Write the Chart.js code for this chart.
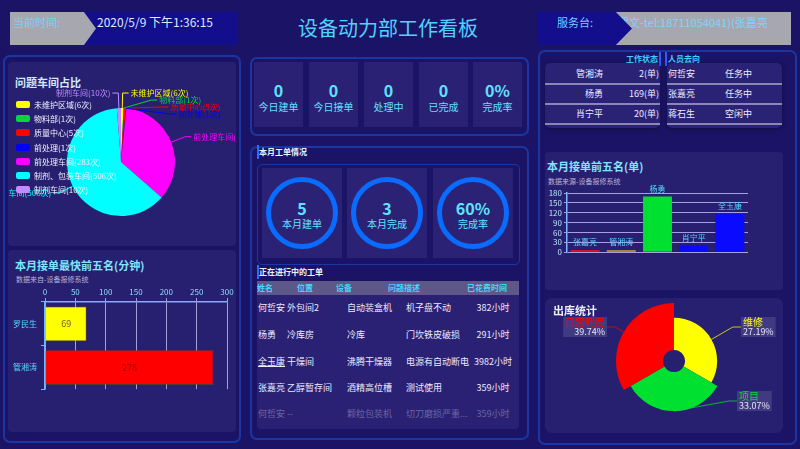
<!DOCTYPE html>
<html lang="zh">
<head>
<meta charset="utf-8">
<title>设备动力部工作看板</title>
<script src="https://cdn.jsdelivr.net/npm/chart.js@4.4.1/dist/chart.umd.min.js"></script>
<style>
*{margin:0;padding:0;box-sizing:border-box}
html,body{width:800px;height:449px;overflow:hidden}
body{background:#1b1466;font-family:"Microsoft YaHei","Noto Sans CJK SC","Noto Sans",sans-serif;position:relative;color:#fff}
.a{position:absolute;white-space:nowrap}
.frame{position:absolute;border:2px solid rgba(28,82,210,0.55);border-radius:7px}
.panel{position:absolute;background:#271f6f;border-radius:4px}
.cell{position:absolute;background:#2a2174}
.num{position:absolute;left:0;right:0;text-align:center;color:#5fe2ff;font-weight:bold}
.lab{position:absolute;left:0;right:0;text-align:center;color:#5fe2ff}
canvas{position:absolute}
.ring{position:absolute;border:5px solid #0a6cff;border-radius:50%}
.tbox{position:absolute;background:#2a2274;border-radius:5px;box-shadow:0 1px 4px rgba(0,0,0,0.4)}
.sep{position:absolute;left:0;right:0;height:2px;background:#8c86b8}
.leg{display:flex;align-items:center;height:14.3px;font-size:8px;color:#f2f0ff}
.leg i{display:inline-block;width:14px;height:7px;border-radius:2px;margin-right:4px}
</style>
</head>
<body>
<script>
// ---------- data ----------
const headerTime = '2020/5/9 下午1:36:15';
const serviceDesk = '罗文-tel:18711054041)(张嘉亮';

const pieLabels = ['未维护区域','物料部','质量中心','前处理','前处理车间','制剂、包装车间','制剂车间'];
const pieValues = [6,1,5,1,283,506,10];
const pieColors = ['#ffff00','#00d83a','#ff0000','#0000ff','#ff00ff','#00ffff','#c08cff'];

const fastNames = ['罗民生','管湘涛'];
const fastMinutes = [69,278];
const fastColors = ['#ffff00','#ff0000'];
const fastTextColors = ['#6a6420','#9a0000'];
const fastAxisMax = 300;
const fastAxisStep = 50;

const statLabels = ['今日建单','今日接单','处理中','已完成','完成率'];
const statValues = ['0','0','0','0','0%'];

const monthLabels = ['本月建单','本月完成','完成率'];
const monthValues = ['5','3','60%'];

const tableHead = ['姓名','位置','设备','问题描述','已花费时间'];
const tableNames = ['何哲安','杨勇','全玉康','张嘉亮','何哲安'];
const tablePlaces = ['外包间2','冷库房','干燥间','乙醇暂存间','--'];
const tableDevices = ['自动装盒机','冷库','沸腾干燥器','酒精高位槽','颗粒包装机'];
const tableProblems = ['机子盘不动','门坎铁皮破损','电源有自动断电','测试使用','切刀磨损严重...'];
const tableHours = ['382小时','291小时','3982小时','359小时','359小时'];

const statusNames = ['管湘涛','杨勇','肖宁平'];
const statusOrders = [2,169,20];
const whereNames = ['何哲安','张嘉亮','蒋石生'];
const whereStates = ['任务中','任务中','空闲中'];

const topNames = ['张嘉亮','管湘涛','杨勇','肖宁平','全玉康'];
const topOrders = [2,2,169,20,116];
const topColors = ['#ff1010','#d2a23c','#00e030','#0a0aff','#0a0aff'];
const topAxisMax = 180;
const topAxisStep = 30;

const roseLabels = ['维修','项目','日常耗用'];
const roseValues = [27.19,33.07,39.74];
const roseColors = ['#ffff00','#00e030','#ff0000'];
</script>

<!-- header -->
<div class="a" style="left:78px;top:12px;width:160px;height:33px;background:#120e8c"></div>
<div class="a" style="left:10px;top:12px;width:86px;height:33px;background:#a7a7b0;clip-path:polygon(0 0,86% 0,100% 50%,86% 100%,0 100%)"></div>
<div class="a" style="left:13px;top:15px;font-size:11px;line-height:14px;color:#78d0ff">当前时间:</div>
<div class="a" id="clock" style="left:97px;top:15px;font-size:12px;line-height:14px;color:#dfe9ff"></div>
<div class="a" style="left:0;width:776px;top:14px;text-align:center;font-size:20px;line-height:28px;color:#4fd2ff">设备动力部工作看板</div>
<div class="a" style="left:615px;top:12px;width:176px;height:33px;background:#a7a7b0;overflow:hidden"><span id="desk" class="a" style="left:3px;top:3px;font-size:11px;line-height:14px;color:#7fd4ff"></span></div>
<div class="a" style="left:537px;top:12px;width:95px;height:33px;background:#120e8c;clip-path:polygon(0 0,83% 0,100% 50%,83% 100%,0 100%)"></div>
<div class="a" style="left:557px;top:15px;font-size:11px;line-height:14px;color:#78d0ff">服务台:</div>

<!-- left column -->
<div class="frame" style="left:3px;top:55px;width:238px;height:388px"></div>
<div class="panel" style="left:8px;top:62px;width:228px;height:184px"></div>
<div class="panel" style="left:8px;top:250px;width:228px;height:182px"></div>
<div class="a" style="left:15px;top:74px;font-size:11px;line-height:16px;font-weight:bold;color:#d3eaff">问题车间占比</div>
<canvas id="pie" width="228" height="183" style="left:8px;top:62px"></canvas>
<div id="legend" class="a" style="left:16px;top:97px"></div>

<div class="a" style="left:15px;top:257px;font-size:11px;line-height:16px;font-weight:bold;color:#7ee6ff">本月接单最快前五名(分钟)</div>
<div class="a" style="left:16px;top:274px;font-size:7px;line-height:10px;color:#b9b4d8">数据来自-设备报修系统</div>
<canvas id="fast" width="228" height="115" style="left:8px;top:283px"></canvas>

<!-- middle column -->
<div class="frame" style="left:250px;top:57px;width:279px;height:79px"></div>
<div id="stats"></div>
<div class="frame" style="left:250px;top:146px;width:279px;height:294px"></div>
<div class="a" style="left:257px;top:145px;width:2px;height:14px;background:#2a6cff"></div>
<div class="a" style="left:259px;top:146px;font-size:8px;line-height:12px;font-weight:bold;color:#eef2ff">本月工单情况</div>
<div class="a" style="left:257px;top:164px;width:263px;height:101px;border:1px solid rgba(30,90,220,0.5);border-radius:5px"></div>
<div id="rings"></div>
<div class="a" style="left:257px;top:265px;width:2px;height:14px;background:#2a6cff"></div>
<div class="a" style="left:259px;top:266px;font-size:8px;line-height:12px;font-weight:bold;color:#eef2ff">正在进行中的工单</div>
<div class="a" style="left:257px;top:281px;width:262px;height:148px;background:#2a2174;border-radius:4px"></div>
<div class="a" style="left:257px;top:281px;width:262px;height:14px;background:#5d5888"></div>
<div id="table"></div>

<!-- right column -->
<div class="frame" style="left:538px;top:50px;width:259px;height:395px"></div>
<div class="a" style="left:600px;top:53px;width:58px;text-align:right;font-size:8px;line-height:12px;font-weight:bold;color:#3fd0ff">工作状态</div>
<div class="a" style="left:659px;top:52px;width:2px;height:14px;background:#2a5cff"></div>
<div class="a" style="left:665px;top:52px;width:2px;height:14px;background:#2a5cff"></div>
<div class="a" style="left:668px;top:53px;font-size:8px;line-height:12px;font-weight:bold;color:#3fd0ff">人员去向</div>
<div class="tbox" id="statusBox" style="left:545px;top:63px;width:115px;height:65px"></div>
<div class="tbox" id="whereBox" style="left:667px;top:63px;width:115px;height:65px"></div>

<div class="panel" style="left:545px;top:152px;width:238px;height:138px"></div>
<div class="a" style="left:547px;top:158px;font-size:11px;line-height:16px;font-weight:bold;color:#7ee6ff">本月接单前五名(单)</div>
<div class="a" style="left:548px;top:176px;font-size:7px;line-height:10px;color:#b9b4d8">数据来源-设备报修系统</div>
<canvas id="top5" width="238" height="76" style="left:545px;top:183px"></canvas>

<div class="panel" style="left:545px;top:298px;width:238px;height:135px;border-radius:7px"></div>
<canvas id="rose" width="238" height="134" style="left:545px;top:298px"></canvas>
<div class="a" style="left:553px;top:302px;font-size:11px;line-height:16px;font-weight:bold;color:#e8f0ff">出库统计</div>

<script>
const FONT = '"Microsoft YaHei","Noto Sans CJK SC",sans-serif';
document.getElementById('clock').textContent = headerTime;
document.getElementById('desk').textContent = serviceDesk;

// legend
const legend = document.getElementById('legend');
pieLabels.forEach((l,i)=>{
  const d=document.createElement('div'); d.className='leg';
  d.innerHTML='<i style="background:'+pieColors[i]+'"></i>'+l+'('+pieValues[i]+'次)';
  legend.appendChild(d);
});

// stat cells
const statX=[254,309,364,419,473];
const stats=document.getElementById('stats');
statLabels.forEach((l,i)=>{
  const c=document.createElement('div'); c.className='cell';
  c.style.cssText='left:'+statX[i]+'px;top:62px;width:49px;height:65px';
  c.innerHTML='<div class="num" style="top:18px;font-size:16px;line-height:20px">'+statValues[i]+'</div><div class="lab" style="top:38px;font-size:10px;line-height:14px">'+l+'</div>';
  stats.appendChild(c);
});

// ring cells
const ringX=[262,347,433];
const rings=document.getElementById('rings');
monthLabels.forEach((l,i)=>{
  const c=document.createElement('div'); c.className='cell';
  c.style.cssText='left:'+ringX[i]+'px;top:168px;width:80px;height:90px;background:#2b2276';
  c.innerHTML='<div class="ring" style="left:4px;top:9px;width:72px;height:72px"></div>'+
   '<div class="num" style="top:30px;font-size:16px;line-height:20px">'+monthValues[i]+'</div>'+
   '<div class="lab" style="top:49px;font-size:10px;line-height:14px">'+l+'</div>';
  rings.appendChild(c);
});

// order table
const table=document.getElementById('table');
const headX=[257,297,336,388,467];
tableHead.forEach((h,i)=>{
  const s=document.createElement('div'); s.className='a';
  s.style.cssText='left:'+headX[i]+'px;top:282px;font-size:8px;line-height:12px;font-weight:bold;color:#45d6ff';
  s.textContent=h; table.appendChild(s);
});
const rowY=[308,335,362,388,414];
const colX=[258,287,347,406];
tableNames.forEach((n,r)=>{
  const vals=[n,tablePlaces[r],tableDevices[r],tableProblems[r]];
  const col=r===4?'rgba(230,230,250,0.35)':'#ecebff';
  vals.forEach((v,k)=>{
    const s=document.createElement('div'); s.className='a';
    s.style.cssText='left:'+colX[k]+'px;top:'+(rowY[r]-7)+'px;font-size:9px;line-height:14px;color:'+col+(r===2&&k===0?';text-decoration:underline':'');
    s.textContent=v; table.appendChild(s);
  });
  const t=document.createElement('div'); t.className='a';
  t.style.cssText='left:463px;width:60px;text-align:center;top:'+(rowY[r]-7)+'px;font-size:9px;line-height:14px;color:'+col;
  t.textContent=tableHours[r]; table.appendChild(t);
});

// right top tables
function fillBox(id,a,b,leftMode){
  const box=document.getElementById(id);
  a.forEach((v,i)=>{
    const y=3+i*20;
    const s1=document.createElement('div'); s1.className='a';
    const s2=document.createElement('div'); s2.className='a';
    if(leftMode){
      s1.style.cssText='right:57px;top:'+(y+1)+'px;font-size:9px;line-height:14px;color:#ecebff';
      s2.style.cssText='right:1px;top:'+(y+1)+'px;font-size:9px;line-height:14px;color:#ecebff';
    }else{
      s1.style.cssText='left:1px;top:'+(y+1)+'px;font-size:9px;line-height:14px;color:#ecebff';
      s2.style.cssText='left:58px;top:'+(y+1)+'px;font-size:9px;line-height:14px;color:#ecebff';
    }
    s1.textContent=v; s2.textContent=b[i];
    box.appendChild(s1); box.appendChild(s2);
    const sp=document.createElement('div'); sp.className='sep'; sp.style.top=(20+i*20)+'px';
    box.appendChild(sp);
  });
}
fillBox('statusBox',statusNames,statusOrders.map(v=>v+'(单)'),true);
fillBox('whereBox',whereNames,whereStates,false);

// ---------- charts ----------
Chart.defaults.font.family = FONT;
Chart.defaults.animation = false;

const pieLabelPlugin = {id:'pieLabels', afterDatasetsDraw(chart){
  const ctx=chart.ctx, meta=chart.getDatasetMeta(0), ds=chart.data.datasets[0];
  const items=meta.data.map((arc,i)=>{const m=(arc.startAngle+arc.endAngle)/2;return {i,arc,cos:Math.cos(m),sin:Math.sin(m)};});
  const L=15, gap=7;
  [1,-1].forEach(side=>{
    const list=items.filter(o=>side>0?o.cos>=0:o.cos<0);
    list.forEach(o=>{o.y=o.arc.y+o.sin*(o.arc.outerRadius+L);});
    list.sort((a,b)=>a.y-b.y);
    for(let k=1;k<list.length;k++){ if(list[k].y<list[k-1].y+gap) list[k].y=list[k-1].y+gap; }
    list.forEach(o=>{
      const R=o.arc.outerRadius+L, dy=o.y-o.arc.y;
      const x1=o.arc.x+side*Math.sqrt(Math.max(0,R*R-dy*dy));
      const x0=o.arc.x+o.cos*o.arc.outerRadius, y0=o.arc.y+o.sin*o.arc.outerRadius;
      const x2=x1+side*6;
      ctx.save();
      ctx.strokeStyle=ds.backgroundColor[o.i]; ctx.lineWidth=1;
      ctx.beginPath(); ctx.moveTo(x0,y0); ctx.lineTo(x1,o.y); ctx.lineTo(x2,o.y); ctx.stroke();
      ctx.fillStyle=ds.backgroundColor[o.i]; ctx.font='8px '+FONT;
      ctx.textBaseline='middle'; ctx.textAlign=side>0?'left':'right';
      ctx.fillText(chart.data.labels[o.i]+'('+ds.data[o.i]+'次)', x2+side*2, o.y);
      ctx.restore();
    });
  });
}};

new Chart(document.getElementById('pie'),{
  type:'pie',
  data:{labels:pieLabels,datasets:[{data:pieValues,backgroundColor:pieColors,borderWidth:0}]},
  options:{responsive:false,animation:false,devicePixelRatio:1,
    layout:{padding:{left:59,right:61,top:46,bottom:29}},
    plugins:{legend:{display:false},tooltip:{enabled:false}}},
  plugins:[pieLabelPlugin]
});

const barValuePlugin = {id:'barValues', afterDatasetsDraw(chart){
  const ctx=chart.ctx, meta=chart.getDatasetMeta(0), ds=chart.data.datasets[0];
  meta.data.forEach((bar,i)=>{
    ctx.save(); ctx.fillStyle=fastTextColors[i]; ctx.font='9px '+FONT;
    ctx.textAlign='center'; ctx.textBaseline='middle';
    ctx.fillText(String(ds.data[i]),(bar.x+bar.base)/2,bar.y);
    ctx.restore();
  });
}};

new Chart(document.getElementById('fast'),{
  type:'bar',
  data:{labels:fastNames,datasets:[{data:fastMinutes,backgroundColor:fastColors,borderColor:'rgba(120,80,0,0.5)',borderWidth:1,barPercentage:0.81,categoryPercentage:1}]},
  options:{indexAxis:'y',responsive:false,animation:false,devicePixelRatio:1,
    layout:{padding:{left:0,right:9,top:0,bottom:5}},
    plugins:{legend:{display:false},tooltip:{enabled:false}},
    scales:{
      x:{position:'top',min:0,max:fastAxisMax,
        ticks:{stepSize:fastAxisStep,autoSkip:false,color:'#8fdcff',font:{size:8},padding:1},
        grid:{color:'#a79ed8',lineWidth:1,tickLength:4},
        border:{color:'#6fb6ff',width:1.5},
        afterFit(s){s.height=19;}},
      y:{ticks:{color:'#5ad8ff',font:{size:8},padding:4},
        grid:{drawOnChartArea:false,offset:true,tickLength:4,color:'#6fb6ff'},
        border:{color:'#6fb6ff',width:1.5},
        afterFit(s){s.width=37;}}
    }},
  plugins:[barValuePlugin]
});

const topNamePlugin = {id:'topNames', afterDatasetsDraw(chart){
  const ctx=chart.ctx, meta=chart.getDatasetMeta(0);
  meta.data.forEach((bar,i)=>{
    ctx.save(); ctx.fillStyle='#56d6ff'; ctx.font='8px '+FONT;
    ctx.textAlign='center'; ctx.textBaseline='middle';
    ctx.fillText(chart.data.labels[i],bar.x,bar.y-8);
    ctx.restore();
  });
}};

new Chart(document.getElementById('top5'),{
  type:'bar',
  data:{labels:topNames,datasets:[{data:topOrders,backgroundColor:topColors,barPercentage:0.8,categoryPercentage:1,minBarLength:2}]},
  options:{responsive:false,animation:false,devicePixelRatio:1,
    layout:{padding:{left:0,right:35,top:10,bottom:6}},
    plugins:{legend:{display:false},tooltip:{enabled:false}},
    scales:{
      x:{ticks:{display:false},grid:{display:false},border:{display:false},afterFit(s){s.height=0;}},
      y:{min:0,max:topAxisMax,ticks:{stepSize:topAxisStep,autoSkip:false,color:'#b8e6ff',font:{size:8},padding:2},
        grid:{color:'#a89ee0',lineWidth:1,tickLength:3},
        border:{color:'#7fb6ff',width:1.5},
        afterFit(s){s.width=22;}}
    }},
  plugins:[topNamePlugin]
});

const ROSE_HOLE = 11;
const roseRadiusPlugin = {id:'roseRadius', afterDatasetsUpdate(chart){
  const R=chart.scales.r.drawingArea;
  chart.getDatasetMeta(0).data.forEach(arc=>{
    arc.outerRadius = ROSE_HOLE + (R-ROSE_HOLE)*arc.outerRadius/R;
    arc.innerRadius = ROSE_HOLE;
  });
}};
const roseLabelPlugin = {id:'roseLabels', afterDatasetsDraw(chart){
  const ctx=chart.ctx, meta=chart.getDatasetMeta(0), ds=chart.data.datasets[0];
  const ca=chart.chartArea, total=ds.data.reduce((a,b)=>a+b,0);
  const R=chart.scales.r.drawingArea+10;
  meta.data.forEach((arc,i)=>{
    const m=(arc.startAngle+arc.endAngle)/2, c=Math.cos(m), s=Math.sin(m);
    const x0=arc.x+c*arc.outerRadius, y0=arc.y+s*arc.outerRadius;
    let y1=arc.y+s*R; y1=Math.min(Math.max(y1,ca.top+12),ca.bottom-18);
    const dy=y1-arc.y, side=c>=-1e-6?1:-1;
    const x1=arc.x+side*Math.sqrt(Math.max(0,R*R-dy*dy));
    const x2=x1+side*8;
    ctx.save();
    ctx.strokeStyle=ds.backgroundColor[i]; ctx.globalAlpha=0.75; ctx.lineWidth=1;
    ctx.beginPath(); ctx.moveTo(x0,y0); ctx.lineTo(x1,y1); ctx.lineTo(x2,y1); ctx.stroke();
    ctx.globalAlpha=1;
    const name=chart.data.labels[i], pct=(ds.data[i]/total*100).toFixed(2)+'%';
    ctx.font='10px '+FONT; const w1=ctx.measureText(name).width;
    ctx.font='9px '+FONT; const w2=ctx.measureText(pct).width;
    const w=Math.max(w1,w2)+4;
    const bx=side>0?x2:x2-w;
    ctx.fillStyle='rgba(255,255,255,0.12)'; ctx.fillRect(bx,y1-10,w,20);
    ctx.textAlign=side>0?'left':'right'; ctx.textBaseline='middle';
    const tx=side>0?bx+2:bx+w-2;
    ctx.font='10px '+FONT; ctx.fillStyle=ds.backgroundColor[i]; ctx.fillText(name,tx,y1-4.5);
    ctx.font='9px '+FONT; ctx.fillStyle='#e6e6f6'; ctx.fillText(pct,tx,y1+5);
    ctx.restore();
  });
}};

new Chart(document.getElementById('rose'),{
  type:'polarArea',
  data:{labels:roseLabels,datasets:[{data:roseValues,backgroundColor:roseColors,borderWidth:0}]},
  options:{responsive:false,animation:false,devicePixelRatio:1,
    layout:{padding:{left:71,right:51,top:5,bottom:13}},
    plugins:{legend:{display:false},tooltip:{enabled:false}},
    scales:{r:{display:false,min:0,max:Math.max(...roseValues)}}},
  plugins:[roseRadiusPlugin,roseLabelPlugin]
});
</script>
</body>
</html>
